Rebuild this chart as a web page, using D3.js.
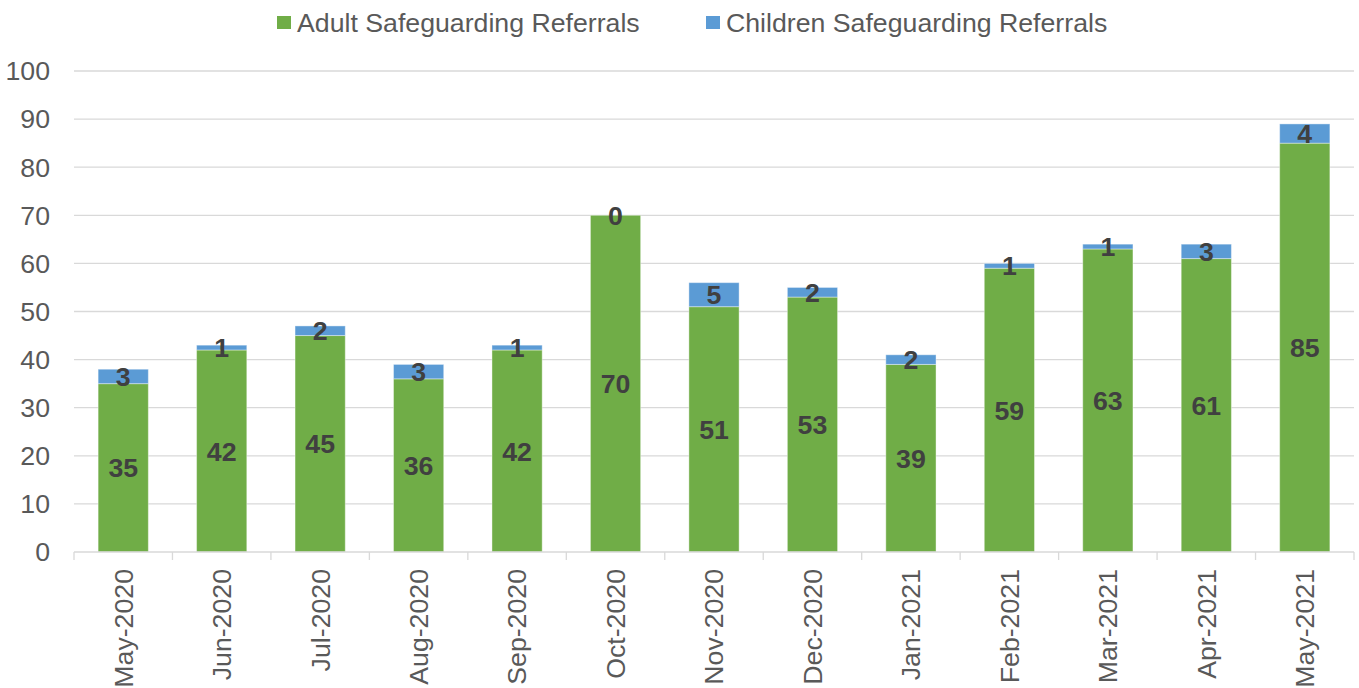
<!DOCTYPE html>
<html>
<head>
<meta charset="utf-8">
<script src="https://cdn.jsdelivr.net/npm/d3@7"></script>
<style>
  body { margin: 0; background: #fff; }
  svg { font-family: Arial, "Liberation Sans", sans-serif; }
</style>
</head>
<body>
<div id="chart"></div>
<script>
var months = ["May-2020", "Jun-2020", "Jul-2020", "Aug-2020", "Sep-2020", "Oct-2020", "Nov-2020",
    "Dec-2020", "Jan-2021", "Feb-2021", "Mar-2021", "Apr-2021", "May-2021"];
var adult = [35, 42, 45, 36, 42, 70, 51, 53, 39, 59, 63, 61, 85];
var children = [3, 1, 2, 3, 1, 0, 5, 2, 2, 1, 1, 3, 4];
var yTicks = [0, 10, 20, 30, 40, 50, 60, 70, 80, 90, 100];
var seriesNames = ["Adult Safeguarding Referrals", "Children Safeguarding Referrals"];
var colors = ["#70AD47", "#5B9BD5"];

function drawChart(id) {
    var width = 1359, height = 688;
    var margin = {top: 71, right: 5, bottom: 136, left: 74};
    var w = width - margin.left - margin.right,
        h = height - margin.top - margin.bottom;
    var fontSize = 26.7;

    var svg = d3.select("#" + id).append("svg")
        .attr("width", width)
        .attr("height", height);
    var g = svg.append("g")
        .attr("transform", "translate(" + margin.left + "," + margin.top + ")");

    var x = d3.scaleBand().domain(months).range([0, w]).paddingInner(0.49).paddingOuter(0.245);
    var xb = d3.scaleBand().domain(months).range([0, w]);
    var y = d3.scaleLinear().domain([0, 100]).range([h, 0]);

    // gridlines
    g.append("g")
        .selectAll("line")
        .data(yTicks.slice(1))
        .enter().append("line")
        .attr("x1", 0)
        .attr("x2", w)
        .attr("y1", function (d) { return y(d); })
        .attr("y2", function (d) { return y(d); })
        .attr("stroke", "#d9d9d9")
        .attr("stroke-width", 1.3);

    // y axis labels
    g.append("g")
        .selectAll("text")
        .data(yTicks)
        .enter().append("text")
        .attr("x", -24)
        .attr("y", function (d) { return y(d); })
        .attr("dy", "0.35em")
        .attr("text-anchor", "end")
        .attr("font-size", fontSize)
        .attr("fill", "#595959")
        .text(function (d) { return d; });

    var data = months.map(function (m, i) {
        return {month: m, adult: adult[i], children: children[i]};
    });
    var stack = d3.stack().keys(["adult", "children"])(data);

    g.append("g")
        .selectAll("g")
        .data(stack)
        .enter().append("g")
        .attr("fill", function (d, i) { return colors[i]; })
        .selectAll("rect")
        .data(function (d) { return d; })
        .enter().append("rect")
        .attr("x", function (d) { return x(d.data.month); })
        .attr("y", function (d) { return y(d[1]); })
        .attr("width", x.bandwidth())
        .attr("height", function (d) { return y(d[0]) - y(d[1]); })
        .attr("stroke", "#ffffff")
        .attr("stroke-opacity", 0.4)
        .attr("stroke-width", 1);

    // value labels
    stack.forEach(function (s) {
        g.append("g")
            .selectAll("text")
            .data(s)
            .enter().append("text")
            .attr("x", function (d) { return x(d.data.month) + x.bandwidth() / 2; })
            .attr("y", function (d) { return (y(d[0]) + y(d[1])) / 2; })
            .attr("dy", "0.36em")
            .attr("text-anchor", "middle")
            .attr("font-size", fontSize)
            .attr("font-weight", "bold")
            .attr("fill", "#404040")
            .text(function (d) { return d.data[s.key]; });
    });

    // x axis
    var axis = g.append("g").attr("transform", "translate(0," + h + ")");
    axis.append("line")
        .attr("x1", 0).attr("x2", w)
        .attr("stroke", "#d9d9d9").attr("stroke-width", 1.3);
    axis.selectAll("line.tick")
        .data(months.concat(["end"]))
        .enter().append("line")
        .attr("class", "tick")
        .attr("x1", function (d, i) { return i < months.length ? xb(d) : w; })
        .attr("x2", function (d, i) { return i < months.length ? xb(d) : w; })
        .attr("y1", 0).attr("y2", 8)
        .attr("stroke", "#d9d9d9").attr("stroke-width", 1.3);
    axis.selectAll("text")
        .data(months)
        .enter().append("text")
        .attr("transform", function (d) {
            return "translate(" + (xb(d) + xb.bandwidth() / 2) + ",17) rotate(-90)";
        })
        .attr("dy", "0.35em")
        .attr("text-anchor", "end")
        .attr("font-size", fontSize)
        .attr("fill", "#595959")
        .text(function (d) { return d; });

    // legend
    var legendX = [277, 706];
    var legend = svg.append("g")
        .selectAll("g")
        .data(seriesNames)
        .enter().append("g")
        .attr("transform", function (d, i) { return "translate(" + legendX[i] + ",16)"; });
    legend.append("rect")
        .attr("width", 14)
        .attr("height", 13)
        .attr("fill", function (d, i) { return colors[i]; });
    legend.append("text")
        .attr("x", 20)
        .attr("y", 7)
        .attr("dy", "0.35em")
        .attr("font-size", fontSize)
        .attr("fill", "#595959")
        .text(function (d) { return d; });
}

drawChart("chart");
</script>
</body>
</html>
